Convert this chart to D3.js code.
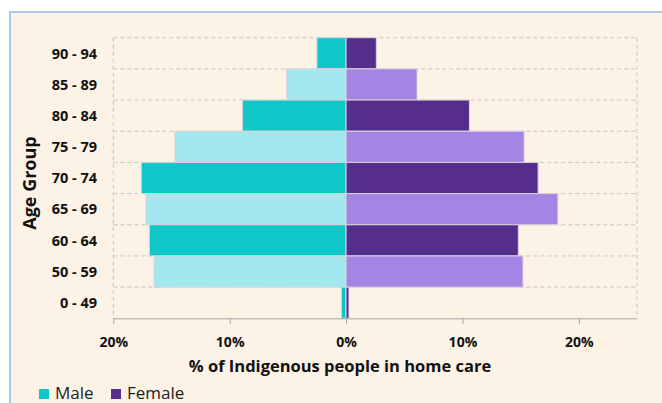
<!DOCTYPE html>
<html>
<head>
<meta charset="utf-8">
<script src="https://cdn.jsdelivr.net/npm/d3@7"></script>
<style>
  body { margin: 0; background: #fff; }
  svg { display: block; font-family: "Open Sans", sans-serif; }
</style>
</head>
<body>
<svg width="662" height="403"></svg>
<script>
// data (percent of Indigenous people in home care)
var ageGroups = ["90 - 94", "85 - 89", "80 - 84", "75 - 79", "70 - 74", "65 - 69", "60 - 64", "50 - 59", "0 - 49"];
var maleValues = [2.5, 5.1, 8.9, 14.7, 17.6, 17.2, 16.9, 16.5, 0.4];
var femaleValues = [2.6, 6.1, 10.6, 15.3, 16.5, 18.2, 14.8, 15.2, 0.25];
var xTicks = [-20, -10, 0, 10, 20];

var svg = d3.select("svg"),
    plotLeft = 113.3, plotRight = 637, plotTop = 37.7, plotBottom = 318.3;

// chart box background + border
svg.append("rect").attr("x", 9).attr("y", 11).attr("width", 700).attr("height", 420)
    .attr("fill", "#fcf2e6");
svg.append("path").attr("d", "M10,403V12H662")
    .attr("fill", "none").attr("stroke", "#a3cbee").attr("stroke-width", 2);

var x = d3.scaleLinear().domain([-20, 25]).range([plotLeft, plotRight]);
var y = d3.scaleBand().domain(ageGroups).range([plotTop, plotBottom]).padding(0);

var maleColors = ["#0fc6c9", "#a3e8ef"];
var femaleColors = ["#552d8c", "#a585e3"];

// dashed grid
var grid = svg.append("g").attr("stroke", "#c6c6c6").attr("stroke-dasharray", "4,3").attr("fill", "none");
grid.selectAll("line.h")
    .data(ageGroups)
    .enter().append("line")
    .attr("x1", plotLeft).attr("x2", plotRight)
    .attr("y1", function (d) { return y(d); })
    .attr("y2", function (d) { return y(d); });
grid.append("line").attr("x1", plotLeft).attr("x2", plotLeft).attr("y1", plotTop).attr("y2", plotBottom);
grid.append("line").attr("x1", plotRight).attr("x2", plotRight).attr("y1", plotTop).attr("y2", plotBottom);

// bars
var bars = svg.append("g").attr("stroke", "#d9d4dc").attr("stroke-width", 1);
bars.selectAll("rect.male")
    .data(maleValues)
    .enter().append("rect")
    .attr("x", function (d) { return x(-d); })
    .attr("y", function (d, i) { return y(ageGroups[i]); })
    .attr("width", function (d) { return x(0) - x(-d); })
    .attr("height", y.bandwidth())
    .attr("fill", function (d, i) { return maleColors[i % 2]; });
bars.selectAll("rect.female")
    .data(femaleValues)
    .enter().append("rect")
    .attr("x", x(0))
    .attr("y", function (d, i) { return y(ageGroups[i]); })
    .attr("width", function (d) { return x(d) - x(0); })
    .attr("height", y.bandwidth())
    .attr("fill", function (d, i) { return femaleColors[i % 2]; });

// x axis
var axisX = svg.append("g")
    .attr("transform", "translate(0," + plotBottom + ")")
    .call(d3.axisBottom(x).tickValues(xTicks).tickSize(6).tickSizeOuter(0).tickPadding(13)
        .tickFormat(function (d) { return Math.abs(d) + "%"; }));
axisX.select(".domain").attr("stroke", "#a6a6a6").attr("d", "M" + plotLeft + ",0.5H" + plotRight);
axisX.selectAll(".tick line").attr("stroke", "#a6a6a6");
axisX.selectAll(".tick text")
    .attr("fill", "#111").attr("font-size", 14).attr("font-weight", "bold")
    .attr("font-family", "'Open Sans', sans-serif");

// y labels
svg.append("g").selectAll("text")
    .data(ageGroups)
    .enter().append("text")
    .attr("x", 97)
    .attr("y", function (d) { return y(d) + y.bandwidth() / 2; })
    .attr("dy", "0.36em")
    .attr("text-anchor", "end")
    .attr("font-size", 14.5).attr("font-weight", "bold").attr("fill", "#111")
    .text(function (d) { return d; });

// titles
svg.append("text")
    .attr("x", 340).attr("y", 372)
    .attr("text-anchor", "middle")
    .attr("font-size", 16.5).attr("font-weight", "bold").attr("fill", "#111")
    .text("% of Indigenous people in home care");
svg.append("text")
    .attr("transform", "translate(36,183) rotate(-90)")
    .attr("text-anchor", "middle")
    .attr("font-size", 18).attr("font-weight", "bold").attr("fill", "#111")
    .text("Age Group");

// legend
var legendItems = [["Male", maleColors[0], 39], ["Female", femaleColors[0], 111]];
var legend = svg.append("g").selectAll("g")
    .data(legendItems)
    .enter().append("g")
    .attr("transform", function (d) { return "translate(" + d[2] + ",389)"; });
legend.append("rect").attr("width", 10).attr("height", 10).attr("fill", function (d) { return d[1]; });
legend.append("text").attr("x", 16).attr("y", 10)
    .attr("font-size", 17).attr("fill", "#222")
    .text(function (d) { return d[0]; });
</script>
</body>
</html>
